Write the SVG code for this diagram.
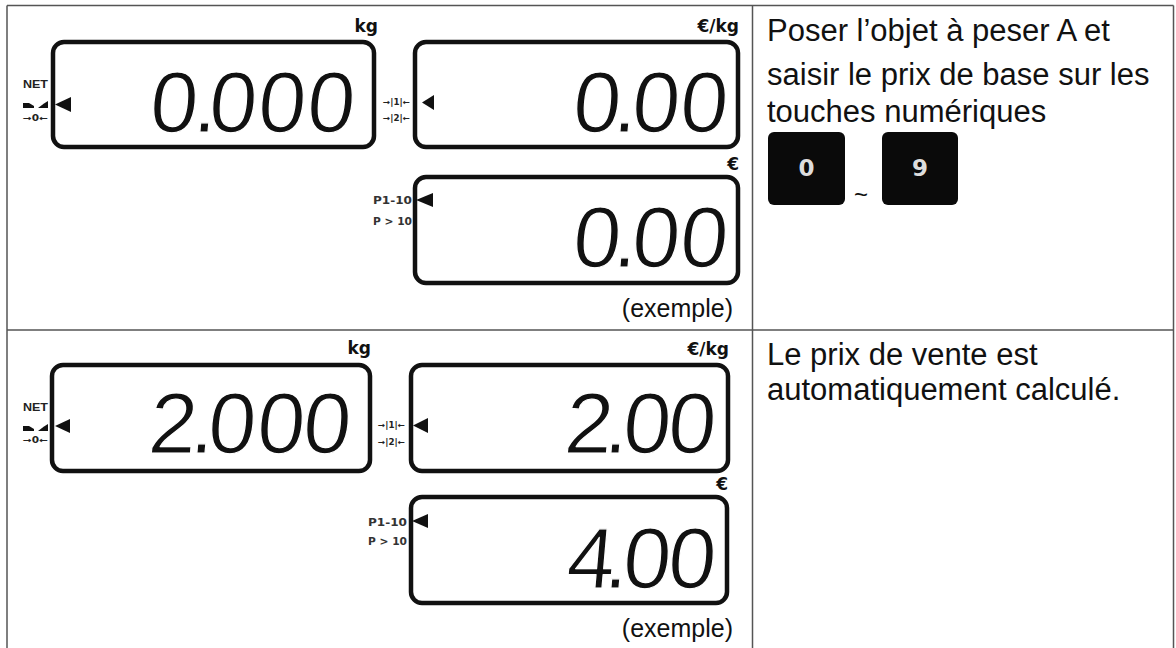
<svg xmlns="http://www.w3.org/2000/svg" width="1176" height="648" viewBox="0 0 1176 648">
<style>
.grid{stroke:#555;stroke-width:1.5;fill:none}
.lcd{fill:#fff;stroke:#111;stroke-width:4.5}
.seg{font-family:"Liberation Sans",Arial,sans-serif;font-size:86px;fill:#111;stroke:#fff;stroke-width:1.2;stroke-linejoin:round}
.unit{font-family:"DejaVu Sans",sans-serif;font-weight:bold;font-size:17px;fill:#111;text-anchor:end}
.tiny{font-family:"DejaVu Sans",sans-serif;font-weight:bold;font-size:8px;fill:#222}
.net{font-family:"Liberation Sans",Arial,sans-serif;font-weight:bold;font-size:11px;fill:#222}
.plab{font-family:"DejaVu Sans",sans-serif;font-weight:bold;font-size:10.5px;fill:#333}
.ind{fill:#111}
.body{font-family:"Liberation Sans",Arial,sans-serif;font-size:31px;fill:#111}
.ex{font-family:"Liberation Sans",Arial,sans-serif;font-size:25px;fill:#111;text-anchor:end}
.key{fill:#0a0a0a}
.keyt{font-family:"DejaVu Sans",sans-serif;font-weight:bold;font-size:23px;fill:#ddd;text-anchor:middle}
</style>
<rect width="1176" height="648" fill="#fff"/>
<g id="table">
<path class="grid" d="M7,5.5H1173.5M7,5.5V648M1173.5,5.5V648M752.5,5.5V648M7,330H1173.5"/>
</g>

<g id="r1-weight">
<rect class="lcd" x="53" y="42" width="321" height="105" rx="11"/>
<text class="unit" x="378" y="32">kg</text>
<text class="net" x="23" y="88" textLength="25" lengthAdjust="spacingAndGlyphs">NET</text>
<polygon class="ind" points="23,103 29,103 34,106 34,108 23,108"/>
<polygon class="ind" points="38,108 44,103.5 48,101 48,108"/>
<text class="tiny" x="23" y="121" textLength="25" lengthAdjust="spacingAndGlyphs">→0←</text>
<polygon class="ind" points="55,104.5 71,97 71,112"/>
<text class="seg" transform="translate(0,132) skewX(-5)" x="148 192 207 256 305" y="0">0.000</text>
</g>

<g id="r1-unitprice">
<rect class="lcd" x="415" y="42" width="323" height="105" rx="11"/>
<text class="unit" x="739" y="32">€/kg</text>
<text class="tiny" x="383" y="105" textLength="27" lengthAdjust="spacingAndGlyphs">→|1|←</text>
<text class="tiny" x="383" y="121" textLength="27" lengthAdjust="spacingAndGlyphs">→|2|←</text>
<polygon class="ind" points="422,102.5 434,95 434,110"/>
<text class="seg" transform="translate(0,132) skewX(-5)" x="571 612 630 678" y="0">0.00</text>
</g>

<g id="r1-total">
<rect class="lcd" x="415" y="177" width="323" height="106" rx="11"/>
<text class="unit" x="739" y="170">€</text>
<text class="plab" x="373" y="204" textLength="39" lengthAdjust="spacingAndGlyphs">P1-10</text>
<text class="plab" x="373" y="225" textLength="39" lengthAdjust="spacingAndGlyphs">P &gt; 10</text>
<polygon class="ind" points="416,200 433,193 433,207"/>
<text class="seg" transform="translate(0,267) skewX(-5)" x="571 612 630 678" y="0">0.00</text>
<text class="ex" x="733" y="317">(exemple)</text>
</g>

<g id="r1-instruction">
<text class="body" x="767" y="41">Poser l’objet à peser A et</text>
<text class="body" x="767" y="85">saisir le prix de base sur les</text>
<text class="body" x="767" y="122">touches numériques</text>
</g>

<g id="key-0">
<rect class="key" x="768" y="132" width="77" height="73" rx="6"/>
<text class="keyt" x="806.5" y="176">0</text>
</g>
<text x="861" y="203" font-family="Liberation Sans, Arial, sans-serif" font-size="24" fill="#111" text-anchor="middle">~</text>
<g id="key-9">
<rect class="key" x="882" y="132" width="76" height="73" rx="6"/>
<text class="keyt" x="920" y="176">9</text>
</g>

<g id="r2-weight">
<rect class="lcd" x="52" y="365" width="318" height="106" rx="11"/>
<text class="unit" x="371" y="354">kg</text>
<text class="net" x="23" y="411" textLength="25" lengthAdjust="spacingAndGlyphs">NET</text>
<polygon class="ind" points="23,426 29,426 34,429 34,431 23,431"/>
<polygon class="ind" points="38,431 44,426.5 48,424 48,431"/>
<text class="tiny" x="23" y="443" textLength="25" lengthAdjust="spacingAndGlyphs">→0←</text>
<polygon class="ind" points="55,426 70,419 70,433"/>
<text class="seg" transform="translate(0,453) skewX(-5)" x="147 189 206 255 301" y="0">2.000</text>
</g>

<g id="r2-unitprice">
<rect class="lcd" x="411" y="365" width="317" height="106" rx="11"/>
<text class="unit" x="729" y="355">€/kg</text>
<text class="tiny" x="378" y="428" textLength="27" lengthAdjust="spacingAndGlyphs">→|1|←</text>
<text class="tiny" x="378" y="445" textLength="27" lengthAdjust="spacingAndGlyphs">→|2|←</text>
<polygon class="ind" points="413,425.5 428,418 428,433"/>
<text class="seg" transform="translate(0,453) skewX(-5)" x="563 603 621 666" y="0">2.00</text>
</g>

<g id="r2-total">
<rect class="lcd" x="411" y="497" width="316" height="106" rx="11"/>
<text class="unit" x="728" y="490">€</text>
<text class="plab" x="368" y="526" textLength="39" lengthAdjust="spacingAndGlyphs">P1-10</text>
<text class="plab" x="368" y="545" textLength="39" lengthAdjust="spacingAndGlyphs">P &gt; 10</text>
<polygon class="ind" points="412,521 428,514 428,528"/>
<text class="seg" transform="translate(0,588) skewX(-5)" x="565 603 621 666" y="0">4.00</text>
<text class="ex" x="733" y="637">(exemple)</text>
</g>

<g id="r2-instruction">
<text class="body" x="767" y="365">Le prix de vente est</text>
<text class="body" x="767" y="400">automatiquement calculé.</text>
</g>
</svg>
